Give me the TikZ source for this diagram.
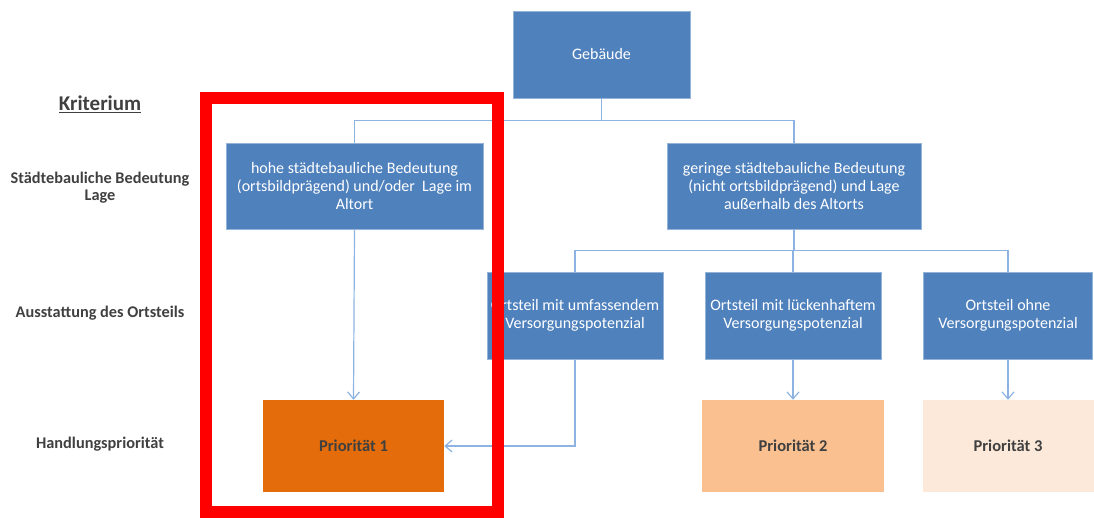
\documentclass[tikz,border=0pt]{standalone}
\usepackage{fontspec}
\setmainfont{Carlito}
\usetikzlibrary{arrows.meta}
\definecolor{boxblue}{HTML}{4F81BD}
\definecolor{boxedge}{HTML}{95B3D7}
\definecolor{lineblue}{HTML}{8DB3E2}
\definecolor{prioA}{HTML}{E46C0A}
\definecolor{prioB}{HTML}{FAC090}
\definecolor{prioC}{HTML}{FDE9D9}
\definecolor{labelgray}{HTML}{404040}
\begin{document}
\begin{tikzpicture}[x=1pt,y=-1pt,
  bluebox/.style={fill=boxblue, draw=boxedge, line width=0.8pt, text=white, align=center,
    font=\fontsize{16}{18}\selectfont, inner sep=0pt},
  priobox/.style={text=labelgray, font=\bfseries\fontsize{16.5}{18}\selectfont, inner sep=0pt},
  crit/.style={text=labelgray, font=\bfseries\fontsize{16.3}{17}\selectfont, align=center},
  conn/.style={draw=lineblue, line width=1.2pt},
  arr/.style={conn, -{Straight Barb[length=7pt,width=12pt,line width=1.2pt]}}]
\useasboundingbox (0,0) rectangle (1094,518);

% top
\node[bluebox, minimum width=177pt, minimum height=87pt] (geb) at (601.5,54.5) {Gebäude};

% level 1
\node[bluebox, minimum width=257pt, minimum height=86pt] (hohe) at (354.5,186)
  {hohe städtebauliche Bedeutung\\(ortsbildprägend) und/oder\ \ Lage im\\Altort};
\node[bluebox, minimum width=254pt, minimum height=86pt] (gering) at (794,186)
  {geringe städtebauliche Bedeutung\\(nicht ortsbildprägend) und Lage\\außerhalb des Altorts};

% level 2
\node[bluebox, minimum width=176pt, minimum height=87pt] (otA) at (575,315.5)
  {Ortsteil mit umfassendem\\Versorgungspotenzial};
\node[bluebox, minimum width=176pt, minimum height=87pt] (otB) at (793,315.5)
  {Ortsteil mit lückenhaftem\\Versorgungspotenzial};
\node[bluebox, minimum width=169pt, minimum height=87pt] (otC) at (1008,315.5)
  {Ortsteil ohne\\Versorgungspotenzial};

% priorities
\node[priobox, fill=prioA, minimum width=181pt, minimum height=92pt] (pA) at (353.5,446) {Priorität 1};
\node[priobox, fill=prioB, minimum width=182pt, minimum height=92pt] (pB) at (793,446) {Priorität 2};
\node[priobox, fill=prioC, minimum width=171pt, minimum height=92pt] (pC) at (1008,446) {Priorität 3};

% criteria labels
\node[crit, font=\bfseries\fontsize{21}{24}\selectfont] (krit) at (100,104) {\underline{Kriterium}};
\node[crit] (lage) at (100,188) {Städtebauliche Bedeutung\\Lage};
\node[crit] (ausst) at (100,313) {Ausstattung des Ortsteils};
\node[crit] (handl) at (100,444) {Handlungspriorität};

% connectors
\draw[conn] (geb.south) -- ++(0,22) coordinate (jA);
\draw[conn] (hohe.north) |- (jA) -| (gering.north);
\draw[conn] (gering.south) -- ++(0,21) coordinate (jB);
\draw[conn] (otA.north) |- (jB) -| (otC.north);
\draw[conn] (otB.north) -- (otB.north |- jB);

\draw[arr] (hohe.south) -- (pA.north);
\draw[arr] (otA.south) |- (pA.east);
\draw[arr] (otB.south) -- (pB.north);
\draw[arr] (otC.south) -- (pC.north);

% red highlight
\draw[red, line width=12pt] (206,98.5) rectangle (498,512);
\end{tikzpicture}
\end{document}
